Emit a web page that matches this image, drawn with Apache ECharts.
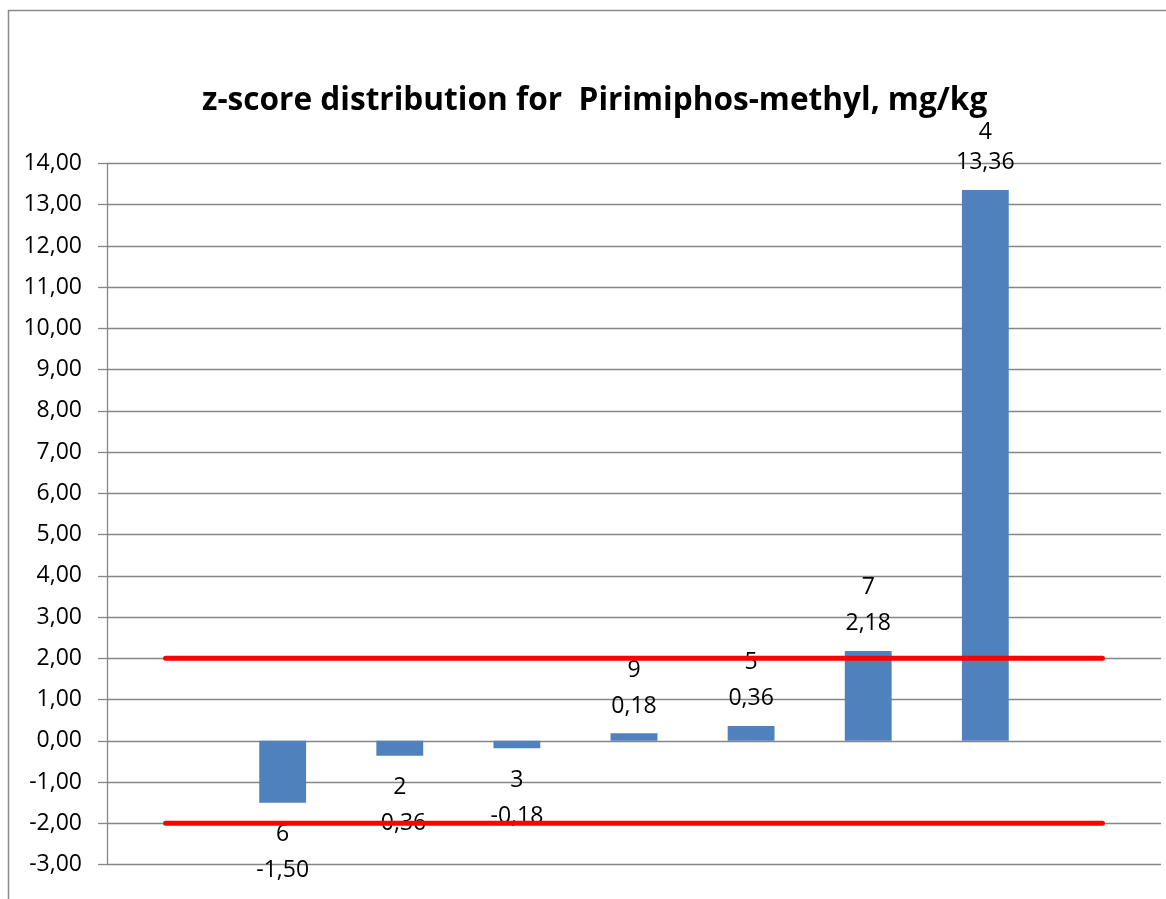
<!DOCTYPE html>
<html>
<head>
<meta charset="utf-8">
<script src="https://cdn.jsdelivr.net/npm/echarts@6/dist/echarts.min.js"></script>
<style>
html,body{margin:0;padding:0;background:#fff;}
#chart{width:1166px;height:899px;}
</style>
</head>
<body>
<div id="chart"></div>
<script>
// Data
const titleText = 'z-score distribution for  Pirimiphos-methyl, mg/kg';
const categories = ['', '6', '2', '3', '9', '5', '7', '4', ''];
const labCodes = ['', '6', '2', '3', '9', '5', '7', '4', ''];
const zScores = ['-', -1.50, -0.36, -0.18, 0.18, 0.36, 2.18, 13.36, '-'];
const upperLimit = [2, 2, 2, 2, 2, 2, 2, 2, 2];
const lowerLimit = [-2, -2, -2, -2, -2, -2, -2, -2, -2];
const yMin = -3, yMax = 14, yInterval = 1;

const FONT = 'Open Sans';
const fmt = v => Number(v).toFixed(2).replace('.', ',');

const barData = zScores.map((v, i) => {
  if (v === '-') return '-';
  const neg = v < 0;
  const label = {
    position: neg ? 'bottom' : 'top',
    distance: neg ? 14 : 9
  };
  // the tallest bar's label is squeezed under the title in the reference
  if (v > yMax - 1) { label.lineHeight = 30; label.distance = 12; }
  return { value: v, label: label };
});

const chart = echarts.init(document.getElementById('chart'), null, {renderer: 'canvas'});
chart.setOption({
  animation: false,
  backgroundColor: '#ffffff',
  graphic: [{
    type: 'rect',
    shape: {x: 8.5, y: 10.5, width: 1300, height: 1000},
    style: {fill: 'none', stroke: '#8a8a8a', lineWidth: 1.5},
    silent: true,
    z: -1
  }],
  title: {
    text: titleText,
    left: 197,
    top: 80,
    textStyle: {fontFamily: FONT, fontWeight: 'bold', fontSize: 31.6, color: '#000'}
  },
  grid: {left: 107, right: 5, top: 163.5, bottom: 34.5, containLabel: false},
  xAxis: {
    type: 'category',
    data: categories,
    axisLine: {show: false},
    axisTick: {show: false},
    axisLabel: {show: false},
    splitLine: {show: false}
  },
  yAxis: {
    type: 'value',
    min: yMin, max: yMax, interval: yInterval,
    axisLine: {show: true, lineStyle: {color: '#868686', width: 1.3}},
    axisTick: {show: true, length: 9, lineStyle: {color: '#868686', width: 1.3}},
    axisLabel: {formatter: fmt, fontFamily: FONT, fontSize: 23, color: '#000', margin: 25},
    splitLine: {show: true, lineStyle: {color: '#868686', width: 1.3}}
  },
  series: [
    {
      type: 'bar',
      data: barData,
      barWidth: '40%',
      itemStyle: {color: '#4f81bd'},
      label: {
        show: true,
        fontFamily: FONT,
        fontSize: 23,
        color: '#000',
        lineHeight: 36,
        formatter: p => labCodes[p.dataIndex] + '\n' + fmt(p.value)
      },
      z: 2
    },
    {
      type: 'line',
      data: upperLimit,
      symbol: 'none',
      lineStyle: {color: '#ff0000', width: 5, cap: 'round'},
      z: 3
    },
    {
      type: 'line',
      data: lowerLimit,
      symbol: 'none',
      lineStyle: {color: '#ff0000', width: 5, cap: 'round'},
      z: 3
    }
  ]
});
</script>
</body>
</html>
